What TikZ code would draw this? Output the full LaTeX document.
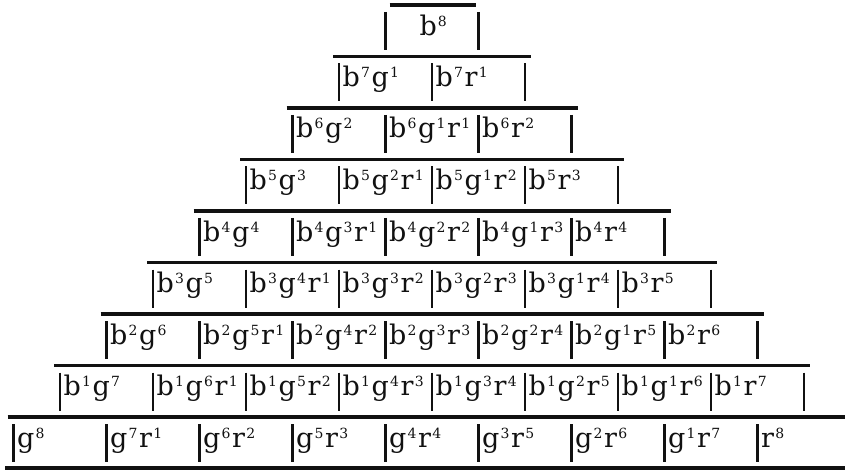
\documentclass[tikz,border=0pt]{standalone}
\usepackage{fontspec}
\setmainfont{DejaVu Serif}
\definecolor{ink}{HTML}{111111}
\newcommand\su[1]{\kern1.2pt\raisebox{9pt}{\fontsize{14}{14}\selectfont #1}\kern1.6pt}
\tikzset{
  rulebar/.style={line width=3.4pt, color=ink},
  sepbar/.style={line width=2.6pt, color=ink},
  cell/.style={inner sep=0pt, anchor=base west, font=\fontsize{27}{27}\selectfont, text=ink},
  topcell/.style={cell, anchor=base}
}
\begin{document}
\begin{tikzpicture}[x=1pt,y=-1pt]
\useasboundingbox[fill=white] (0,0) rectangle (845,470);
\def\W{93}
\foreach \k in {0,...,8}{
  \pgfmathsetmacro\L{432-(\k+1)*\W/2}
  \pgfmathsetmacro\T{5+51.5*\k}
  \pgfmathsetmacro\R{\L+(\k+1)*\W}
  \pgfmathtruncatemacro\kk{\k+1}
  \ifnum\k=0
    \draw[rulebar] (\L+4,\T) -- (\R-3,\T);
  \else
    \draw[rulebar] (\L-6,\T) -- (\R+6,\T);
  \fi
  \foreach \j in {0,...,\kk}{
    \draw[sepbar] (\L+\j*\W,\T+7) -- (\L+\j*\W,\T+45);
  }
  \foreach \j in {0,...,\k}{
    \pgfmathtruncatemacro\eb{8-\k}
    \pgfmathtruncatemacro\eg{\k-\j}
    \pgfmathtruncatemacro\er{\j}
    \ifnum\k=0
      \node[topcell] (c\k-\j) at (\L+\W/2+2,\T+31) {b\su{\eb}};
    \else
      \node[cell] (c\k-\j) at (\L+\j*\W+3.5,\T+30)
        {\ifnum\eb>0 b\su{\eb}\fi\ifnum\eg>0 g\su{\eg}\fi\ifnum\er>0 r\su{\er}\fi};
    \fi
  }
}
\draw[rulebar] (5,468) -- (845,468);
\end{tikzpicture}
\end{document}
